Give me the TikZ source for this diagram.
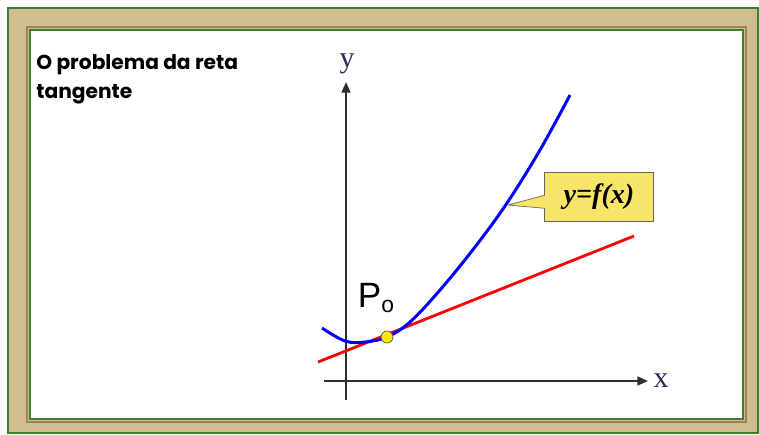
\documentclass[tikz,border=0pt]{standalone}
\usepackage{fontspec}
\setmainfont{Liberation Serif}
\newfontfamily\titlefont{Poppins}
\newfontfamily\pfont{Liberation Sans}
\usepackage{tikz}
\usetikzlibrary{arrows.meta, shapes.callouts}

\definecolor{wood}{RGB}{208,190,146}
\definecolor{woodDark}{RGB}{160,130,90}
\definecolor{frameGreen}{RGB}{62,128,48}
\definecolor{noteYellow}{RGB}{249,228,106}
\definecolor{axisGray}{RGB}{45,45,45}
\definecolor{labelBlue}{RGB}{40,45,90}

\begin{document}
\begin{tikzpicture}[x=0.02cm, y=-0.02cm,
  axis/.style={axisGray, line width=1.2pt, -{Triangle[length=6pt,width=5pt]}},
  axislabel/.style={text=labelBlue, font=\fontsize{17}{17}\selectfont}]
\useasboundingbox (0,0) rectangle (759,434);

% Frame
\draw[frameGreen, line width=1pt, fill=wood] (8,8) rectangle (758,433);
\draw[woodDark, line width=1.5pt] (27,27) rectangle (746,422);
\draw[frameGreen, line width=1.2pt, fill=white] (30,30) rectangle (743,419);

% Title
\node[anchor=north west, inner sep=0pt, align=left,
  font=\titlefont\bfseries\fontsize{11.5}{16.5}\selectfont] (title) at (36,54)
  {O problema da reta\\tangente};

% Axes
\coordinate (yfoot) at (346,400);
\coordinate (ytip) at (346,82);
\coordinate (xfoot) at (324,381);
\coordinate (xtip) at (648,381);
\draw[axis] (yfoot) -- (ytip);
\draw[axis] (xfoot) -- (xtip);
\node[axislabel] (ylab) at (347,64) {y};
\node[axislabel] (xlab) at (661,381) {x};

% Tangent line
\coordinate (tanA) at (318,362);
\coordinate (tanB) at (634,236);
\draw[red, line width=1.6pt] (tanA) -- (tanB);

% Curve y=f(x)
\draw[blue, line width=1.7pt] plot[smooth, tension=0.6] coordinates
  {(322,328) (345,341) (365,342) (387,337) (410,322) (440,290) (475,247) (507,203) (540,150) (570,95)};

% Point P0
\node[circle, draw=black!70, fill=yellow!90!orange, inner sep=0pt, minimum size=0.24cm] (p0) at (387,337) {};
\node[font=\pfont\fontsize{20}{20}\selectfont] (plab) at (376,298)
  {P\raisebox{-3pt}{\fontsize{13}{13}\selectfont o}};

% Callout
\coordinate (ontip) at (508,205);
\node[rectangle callout, callout absolute pointer={(ontip)}, callout pointer width=0.26cm,
  fill=noteYellow, draw=black!60, minimum width=2.18cm, minimum height=0.98cm,
  font=\bfseries\itshape\fontsize{16}{16}\selectfont] (fx) at (599,197) {y=f(x)};

\end{tikzpicture}
\end{document}
